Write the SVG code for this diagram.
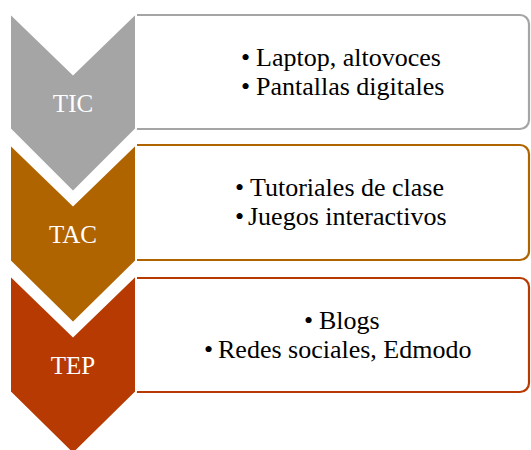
<svg xmlns="http://www.w3.org/2000/svg" width="531" height="450" viewBox="0 0 531 450">
<style>
.chev{stroke:#fff;stroke-width:2;stroke-linejoin:miter}
.box{fill:#fff;stroke-width:2.2}
</style>
<rect width="531" height="450" fill="#fff"/>
<g id="tic">
<path class="box" stroke="#A5A5A5" d="M136,15 H520 A9,9 0 0 1 529,24 V120 A9,9 0 0 1 520,129 H136"/>
<polygon class="chev" fill="#A5A5A5" points="10,13 73,74 136,13 136,129 73,192 10,129"/>
<text x="73" y="112" font-family="Liberation Serif, Times New Roman, serif" font-size="25" fill="#fff" text-anchor="middle">TIC</text>
<g font-family="Liberation Serif, Times New Roman, serif" font-size="26" fill="#000">
<text x="241" y="66">•</text><text x="256" y="66">Laptop, altovoces</text>
<text x="241" y="95">•</text><text x="256" y="95">Pantallas digitales</text>
</g>
</g>
<g id="tac">
<path class="box" stroke="#B06400" d="M136,145 H520 A9,9 0 0 1 529,154 V251 A9,9 0 0 1 520,260 H136"/>
<polygon class="chev" fill="#B06400" points="10,144 73,205 136,144 136,261 73,323 10,261"/>
<text x="73" y="243" font-family="Liberation Serif, Times New Roman, serif" font-size="25" fill="#fff" text-anchor="middle">TAC</text>
<g font-family="Liberation Serif, Times New Roman, serif" font-size="26" fill="#000">
<text x="235" y="196">•</text><text x="250" y="196">Tutoriales de clase</text>
<text x="235" y="225">•</text><text x="248" y="225">Juegos interactivos</text>
</g>
</g>
<g id="tep">
<path class="box" stroke="#B63A02" d="M136,278 H520 A9,9 0 0 1 529,287 V383 A9,9 0 0 1 520,392 H136"/>
<polygon class="chev" fill="#B63A02" points="10,275 73,336 136,275 136,392 73,454 10,392"/>
<text x="73" y="374" font-family="Liberation Serif, Times New Roman, serif" font-size="25" fill="#fff" text-anchor="middle">TEP</text>
<g font-family="Liberation Serif, Times New Roman, serif" font-size="26" fill="#000">
<text x="304" y="329">•</text><text x="319" y="329">Blogs</text>
<text x="204" y="358">•</text><text x="218" y="358">Redes sociales, Edmodo</text>
</g>
</g>
<g id="connectors"></g>
</svg>
